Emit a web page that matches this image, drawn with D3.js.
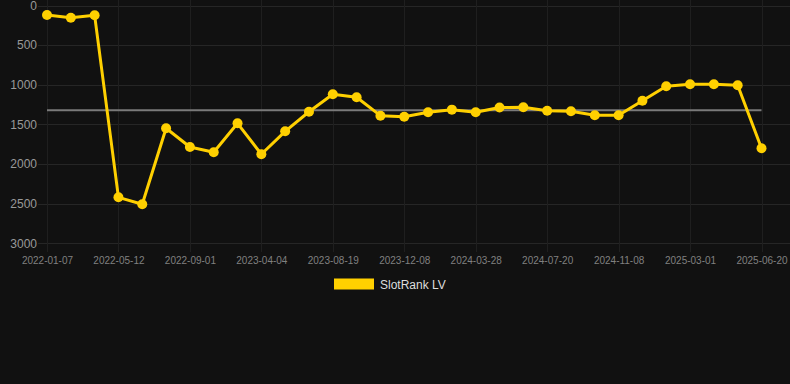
<!DOCTYPE html>
<html>
<head>
<meta charset="utf-8">
<script src="https://cdn.jsdelivr.net/npm/d3@7"></script>
<style>
  html, body { margin: 0; padding: 0; background: #111111; }
  svg { display: block; font-family: "Liberation Sans", Arial, sans-serif; }
</style>
</head>
<body>
<div id="chart"></div>
<script>
// Data
// ==============================================================================
var dates = [
  "2022-01-07", "2022-02-18", "2022-03-31", "2022-05-12", "2022-06-18", "2022-07-25",
  "2022-09-01", "2022-11-12", "2023-01-22", "2023-04-04", "2023-05-19", "2023-07-04",
  "2023-08-19", "2023-09-25", "2023-11-01", "2023-12-08", "2024-01-13", "2024-02-20",
  "2024-03-28", "2024-05-05", "2024-06-12", "2024-07-20", "2024-08-26", "2024-10-02",
  "2024-11-08", "2024-12-15", "2025-01-22", "2025-03-01", "2025-04-07", "2025-05-14",
  "2025-06-20"
];
var ranks = [
  120, 154, 124, 2420, 2508, 1549,
  1785, 1852, 1486, 1877, 1587, 1340,
  1120, 1158, 1390, 1403, 1347, 1314,
  1347, 1287, 1284, 1327, 1335, 1385,
  1385, 1201, 1019, 994, 994, 1007,
  1801
];
var averageRank = 1321;
var yTicks = [0, 500, 1000, 1500, 2000, 2500, 3000];
var seriesName = "SlotRank LV";

// Canvas
// ==============================================================================
var svgWidth = 790;
var svgHeight = 384;

var svg = d3.select("#chart")
  .append("svg")
  .attr("width", svgWidth)
  .attr("height", svgHeight);

svg.append("rect")
  .attr("width", svgWidth)
  .attr("height", svgHeight)
  .attr("fill", "#111111");

// Scales
// ==============================================================================
var xScale = d3.scalePoint()
  .domain(dates)
  .range([47, 761.5]);

var yScale = d3.scaleLinear()
  .domain([0, 3000])
  .range([5.5, 243.3]);

var shownDates = dates.filter((d, i) => i % 3 === 0);

// Grid
// ==============================================================================
var grid = svg.append("g").attr("class", "grid");

grid.selectAll(".hgrid")
  .data(yTicks)
  .enter()
  .append("line")
  .attr("x1", 38)
  .attr("x2", 790)
  .attr("y1", d => Math.round(yScale(d)) + 0.5)
  .attr("y2", d => Math.round(yScale(d)) + 0.5)
  .attr("stroke", "#262626")
  .attr("stroke-width", 1);

grid.selectAll(".vgrid")
  .data(shownDates)
  .enter()
  .append("line")
  .attr("x1", d => Math.round(xScale(d)) + 0.5)
  .attr("x2", d => Math.round(xScale(d)) + 0.5)
  .attr("y1", 0)
  .attr("y2", 252)
  .attr("stroke", "#1f1f1f")
  .attr("stroke-width", 1);

// Axes
// ==============================================================================
var leftAxis = d3.axisLeft(yScale)
  .tickValues(yTicks)
  .tickSize(0)
  .tickPadding(0)
  .tickFormat(d3.format("d"));

var yAxisGroup = svg.append("g")
  .attr("transform", "translate(37, 0)")
  .call(leftAxis);
yAxisGroup.select(".domain").remove();
yAxisGroup.selectAll("text")
  .attr("fill", "#999999")
  .attr("font-size", "12px")
  .attr("font-family", "'Liberation Sans', Arial, sans-serif");

var bottomAxis = d3.axisBottom(xScale)
  .tickValues(shownDates)
  .tickSize(0)
  .tickPadding(0);

var xAxisGroup = svg.append("g")
  .attr("transform", "translate(0, 256.5)")
  .call(bottomAxis);
xAxisGroup.select(".domain").remove();
xAxisGroup.selectAll("text")
  .attr("fill", "#808080")
  .attr("font-size", "10px")
  .attr("font-family", "'Liberation Sans', Arial, sans-serif");

// Average line
// ==============================================================================
svg.append("line")
  .attr("x1", xScale(dates[0]))
  .attr("x2", xScale(dates[dates.length - 1]))
  .attr("y1", yScale(averageRank))
  .attr("y2", yScale(averageRank))
  .attr("stroke", "#7a7a7a")
  .attr("stroke-width", 2);

// Series line and points
// ==============================================================================
var lineGen = d3.line()
  .x((d, i) => xScale(dates[i]))
  .y(d => yScale(d));

svg.append("path")
  .datum(ranks)
  .attr("d", lineGen)
  .attr("fill", "none")
  .attr("stroke", "#FFD000")
  .attr("stroke-width", 3)
  .attr("stroke-linejoin", "round");

svg.selectAll(".point")
  .data(ranks)
  .enter()
  .append("circle")
  .attr("class", "point")
  .attr("cx", (d, i) => xScale(dates[i]))
  .attr("cy", d => yScale(d))
  .attr("r", 5)
  .attr("fill", "#FFD000");

// Legend
// ==============================================================================
var legend = svg.append("g").attr("class", "legend");

legend.append("rect")
  .attr("x", 334)
  .attr("y", 278.5)
  .attr("width", 40)
  .attr("height", 11)
  .attr("fill", "#FFD000");

legend.append("text")
  .attr("x", 380)
  .attr("y", 288.5)
  .attr("fill", "#dddddd")
  .attr("font-size", "12px")
  .text(seriesName);
</script>
</body>
</html>
